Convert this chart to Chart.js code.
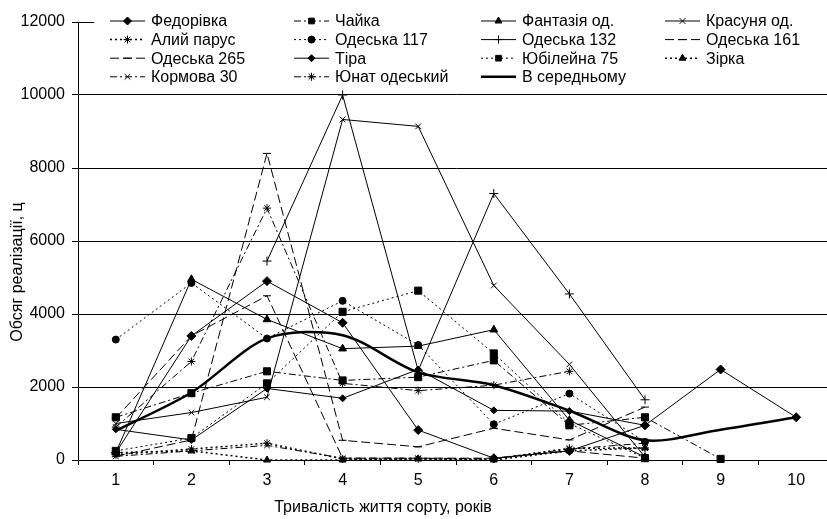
<!DOCTYPE html>
<html>
<head>
<meta charset="utf-8">
<script src="https://cdn.jsdelivr.net/npm/chart.js@4.4.1/dist/chart.umd.min.js"></script>
<style>
  html, body { margin: 0; padding: 0; background: #fff; overflow: hidden; }
  #wrap { width: 840px; height: 519px; }
</style>
</head>
<body>
<div id="wrap"><canvas id="chart" width="840" height="519"></canvas></div>
<script>
// Тривалість життя сорту (роки)
const years = ['1', '2', '3', '4', '5', '6', '7', '8', '9', '10'];
const yTicks = [0, 2000, 4000, 6000, 8000, 10000, 12000];

// Обсяг реалізації по сортах, ц
const fedorivka  = [200, 3400, 4900, 3760, 820, 50, 250, 950, 2480, 1170];
const chaika     = [1170, 1830, 2430, 2180, 2270, 2730, 950, 1170, 30, null];
const fantaziia  = [200, 4950, 3850, 3050, 3120, 3570, 1090, 80, null, null];
const krasunia   = [1000, 1300, 1720, 9330, 9140, 4780, 2620, 80, null, null];
const alyiParus  = [150, 300, 460, 30, 30, 30, 320, 330, null, null];
const odeska117  = [3300, 4850, 3330, 4360, 3150, 980, 1820, 500, null, null];
const odeska132  = [null, null, 5450, 10000, 2450, 7300, 4550, 1650, null, null];
const odeska161  = [100, 550, 8400, 540, 360, 870, 550, 1450, null, null];
const odeska265  = [1150, 3400, 4500, 50, 50, 50, 250, 50, null, null];
const tira       = [840, 550, 1960, 1690, 2480, 1360, 1340, 950, null, null];
const yuvileina  = [250, 600, 2100, 4060, 4640, 2920, 1000, 50, null, null];
const zirka      = [200, 250, 0, 0, 30, 0, 250, 330, null, null];
const kormova30  = [100, 250, 400, 50, 50, 30, 300, 460, null, null];
const yunat      = [900, 2700, 6900, 2100, 1900, 2050, 2430, null, null, null];
const average    = [800, 1850, 3330, 3420, 2400, 2050, 1350, 540, 830, 1170];

const FONT = '"Liberation Sans", Arial, sans-serif';
const SOLID = [];
const DOT = [2, 3];
const DASH = [9, 4];
const DASHDOT = [7, 3, 2, 3];

function series(label, data, dash, style, radius, width) {
    return {
        label: label,
        data: data,
        borderColor: '#000',
        backgroundColor: '#000',
        borderWidth: width || 1,
        borderDash: dash,
        pointStyle: style || false,
        pointRadius: style ? radius : 0,
        pointBorderWidth: 1,
        pointBorderColor: '#000',
        pointBackgroundColor: '#000',
        tension: 0,
        spanGaps: false,
        clip: false
    };
}

const datasets = [
    series('Федорівка', fedorivka, SOLID, 'rectRot', 4.5),
    series('Чайка', chaika, DASHDOT, 'rect', 5),
    series('Фантазія од.', fantaziia, SOLID, 'triangle', 4.5),
    series('Красуня од.', krasunia, SOLID, 'crossRot', 4),
    series('Алий парус', alyiParus, DOT, 'star', 4, 1.5),
    series('Одеська 117', odeska117, DOT, 'circle', 3.5),
    series('Одеська 132', odeska132, SOLID, 'cross', 4.5),
    series('Одеська 161', odeska161, DASH, 'line', 4),
    series('Одеська 265', odeska265, DASH, 'line', 4),
    series('Тіра', tira, SOLID, 'rectRot', 3.5),
    series('Юбілейна 75', yuvileina, DOT, 'rect', 5),
    series('Зірка', zirka, DOT, 'triangle', 4, 1.5),
    series('Кормова 30', kormova30, DASHDOT, 'crossRot', 4),
    series('Юнат одеський', yunat, DASHDOT, 'star', 4),
    series('В середньому', average, SOLID, false, 0, 2.5)
];
datasets[14].tension = 0.3;

// легенда в чотири колонки поверх області графіка
const legendBox = {
    id: 'legendBox',
    afterDraw(chart) {
        const ctx = chart.ctx;
        const cols = [110, 294, 481, 665];
        ctx.save();
        ctx.fillStyle = '#fff';
        ctx.fillRect(94, 10, 746, 78);
        ctx.font = '16px ' + FONT;
        ctx.textBaseline = 'middle';
        chart.data.datasets.forEach(function(ds, i) {
            const x = cols[i % 4];
            const y = 21 + Math.floor(i / 4) * 18.6;
            ctx.strokeStyle = '#000';
            ctx.lineWidth = ds.borderWidth;
            ctx.setLineDash(ds.borderDash);
            ctx.beginPath();
            ctx.moveTo(x, y);
            ctx.lineTo(x + 35, y);
            ctx.stroke();
            ctx.setLineDash([]);
            if (ds.pointStyle && Chart.helpers && Chart.helpers.drawPoint) {
                ctx.fillStyle = '#000';
                ctx.lineWidth = 1;
                Chart.helpers.drawPoint(ctx, {
                    pointStyle: ds.pointStyle,
                    radius: Math.min(ds.pointRadius, 4),
                    rotation: 0,
                    borderWidth: 1
                }, x + 17.5, y);
            }
            ctx.fillStyle = '#000';
            ctx.textAlign = 'left';
            ctx.fillText(ds.label, x + 41, y + 1);
        });
        ctx.restore();
    }
};

// підписи осей
const axisTitles = {
    id: 'axisTitles',
    afterDraw(chart) {
        const ctx = chart.ctx;
        ctx.save();
        ctx.fillStyle = '#000';
        ctx.font = '16px ' + FONT;
        ctx.textAlign = 'center';
        ctx.textBaseline = 'middle';
        ctx.fillText('Тривалість життя сорту, років', 383, 508);
        ctx.translate(18, 272);
        ctx.rotate(-Math.PI / 2);
        ctx.fillText('Обсяг реалізації, ц', 0, 0);
        ctx.restore();
    }
};

const whiteBg = {
    id: 'whiteBg',
    beforeDraw(chart) {
        const ctx = chart.ctx;
        ctx.save();
        ctx.fillStyle = '#fff';
        ctx.fillRect(0, 0, chart.width, chart.height);
        ctx.restore();
    }
};

new Chart(document.getElementById('chart'), {
    type: 'line',
    data: { labels: years, datasets: datasets },
    options: {
        responsive: false,
        animation: false,
        devicePixelRatio: 1,
        layout: { padding: { top: 22, right: 0, bottom: 0, left: 0 } },
        plugins: {
            legend: { display: false },
            tooltip: { enabled: false }
        },
        scales: {
            x: {
                type: 'category',
                offset: true,
                afterFit: function(s) { s.height = 59; },
                grid: {
                    offset: true,
                    drawOnChartArea: false,
                    drawTicks: true,
                    tickLength: 5,
                    color: '#000'
                },
                border: { display: true, color: '#000', width: 1 },
                ticks: { color: '#000', font: { family: FONT, size: 16 }, padding: 6, maxRotation: 0 }
            },
            y: {
                min: 0,
                max: 12000,
                afterFit: function(s) { s.width = 78; },
                afterBuildTicks: function(s) { s.ticks = yTicks.map(function(v) { return { value: v }; }); },
                grid: { color: '#000', lineWidth: 1, drawTicks: true, tickLength: 6 },
                border: { display: true, color: '#000', width: 1 },
                ticks: {
                    color: '#000',
                    font: { family: FONT, size: 16 },
                    padding: 7,
                    callback: function(v) { return String(v); }
                }
            }
        }
    },
    plugins: [whiteBg, legendBox, axisTitles]
});
</script>
</body>
</html>
